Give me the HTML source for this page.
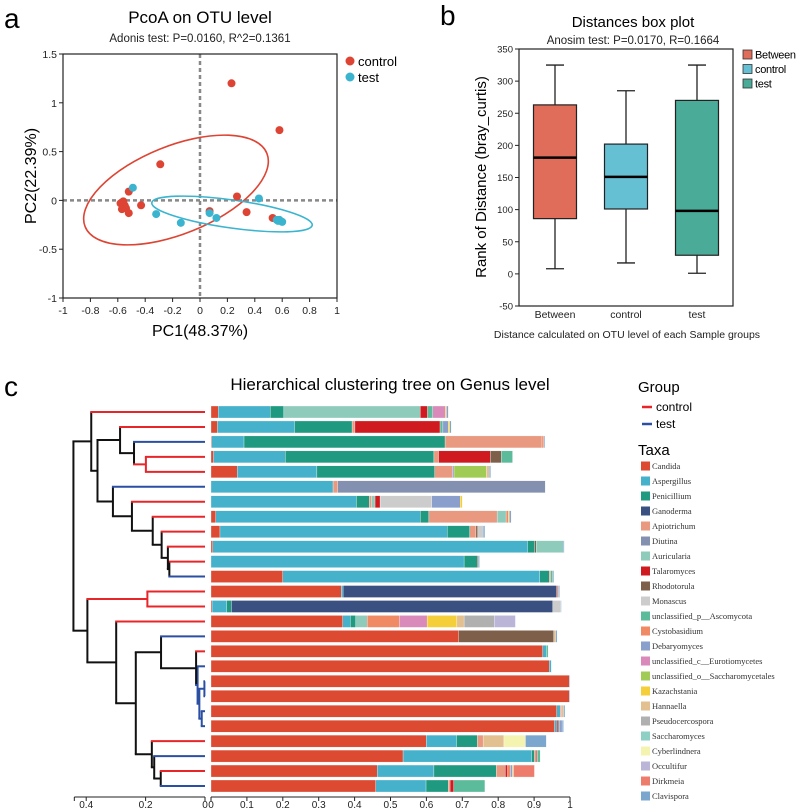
<!DOCTYPE html>
<html><head><meta charset="utf-8"><style>
html,body{margin:0;padding:0;background:#fff}
svg{display:block;font-family:"Liberation Sans",sans-serif}
</style></head><body>
<svg id="fig" width="798" height="811" viewBox="0 0 798 811" xmlns="http://www.w3.org/2000/svg">
<g id="pa"></g>
<g id="pb"></g>
<g id="pc"></g>
</svg>
<script>
// ---------- Panel a data ----------
const ctrlX=[0.23,0.58,-0.29,-0.52,-0.58,-0.56,-0.55,-0.57,-0.54,-0.52,-0.43,0.27,0.07,0.34,0.53];
const ctrlY=[1.2,0.72,0.37,0.09,-0.03,-0.01,-0.05,-0.09,-0.08,-0.13,-0.05,0.04,-0.11,-0.12,-0.18];
const testX=[-0.49,-0.32,-0.14,0.07,0.12,0.43,0.56,0.58,0.60,0.57];
const testY=[0.13,-0.14,-0.23,-0.13,-0.18,0.02,-0.20,-0.20,-0.22,-0.21];
const aXTicks=[-1,-0.8,-0.6,-0.4,-0.2,0,0.2,0.4,0.6,0.8,1];
const aYTicks=[-1,-0.5,0,0.5,1,1.5];
// ---------- Panel b data ----------
const boxCats=["Between","control","test"];
const boxMin=[8,17,1];
const boxQ1=[86,101,29];
const boxMed=[181,151,98];
const boxQ3=[263,202,270];
const boxMax=[325,285,325];
const bYTicks=[-50,0,50,100,150,200,250,300,350];
// ---------- Panel c data ----------
const taxa=["Candida","Aspergillus","Penicillium","Ganoderma","Apiotrichum","Diutina","Auricularia","Talaromyces","Rhodotorula","Monascus","unclassified_p__Ascomycota","Cystobasidium","Debaryomyces","unclassified_c__Eurotiomycetes","unclassified_o__Saccharomycetales","Kazachstania","Hannaella","Pseudocercospora","Saccharomyces","Cyberlindnera","Occultifur","Dirkmeia","Clavispora"];
const taxaColors=["#dc4a32","#45b1cb","#1f9a80","#3a5080","#e99980","#8490b0","#8fcbbb","#cf1a20","#7e604a","#cccccc","#5cbb9a","#f08a65","#8a9fcc","#d98abb","#a0cc55","#f5cf3a","#e2c08f","#b0b0b0","#8ed1c4","#f5f3b0","#bbb5d8","#ee7c6d","#7ba7cf"];
const leafGroup=["c","c","t","c","c","t","c","c","c","c","c","t","c","c","c","t","c","t","t","t","t","t","c","t","c","t"];
const rows=[
[[0,.02],[1,.145],[2,.038],[6,.38],[7,.02],[10,.015],[13,.035],[15,.003],[12,.005]],
[[0,.018],[1,.215],[2,.16],[4,.008],[7,.237],[10,.008],[12,.015],[15,.004],[22,.004]],
[[0,.002],[1,.09],[2,.56],[4,.27],[11,.005],[22,.003]],
[[0,.007],[1,.2],[2,.414],[4,.013],[7,.144],[8,.031],[10,.031]],
[[0,.073],[1,.222],[2,.328],[4,.05],[12,.004],[14,.09],[16,.008],[22,.004]],
[[1,.34],[4,.013],[5,.578]],
[[1,.405],[2,.036],[4,.006],[6,.01],[7,.014],[9,.144],[12,.079],[15,.006]],
[[0,.013],[1,.57],[2,.024],[4,.19],[6,.025],[11,.006],[15,.003],[12,.005]],
[[0,.025],[1,.633],[2,.063],[4,.017],[8,.005],[9,.015],[22,.005]],
[[0,.005],[1,.877],[2,.02],[8,.004],[6,.075],[22,.003]],
[[1,.705],[2,.037],[8,.003],[22,.003]],
[[0,.2],[1,.716],[2,.026],[4,.004],[10,.006],[22,.003]],
[[0,.363],[1,.005],[3,.595],[4,.005],[22,.003]],
[[0,.003],[1,.041],[2,.013],[3,.895],[9,.022],[22,.002]],
[[0,.367],[1,.021],[2,.015],[6,.032],[11,.09],[13,.077],[15,.083],[16,.02],[17,.084],[20,.059]],
[[0,.69],[8,.265],[16,.005],[22,.004]],
[[0,.924],[1,.01],[10,.005]],
[[0,.942],[1,.006]],
[[0,.998],[22,.002]],
[[0,.998],[22,.002]],
[[0,.963],[1,.01],[4,.004],[16,.005],[22,.004]],
[[0,.957],[1,.007],[7,.003],[8,.003],[12,.008],[22,.004]],
[[0,.6],[1,.084],[2,.058],[4,.016],[16,.058],[19,.06],[22,.058]],
[[0,.535],[1,.358],[2,.008],[4,.005],[7,.003],[10,.008]],
[[0,.463],[1,.158],[2,.174],[4,.025],[7,.006],[11,.008],[12,.005],[16,.004],[21,.058]],
[[0,.459],[1,.14],[2,.062],[4,.005],[7,.01],[10,.087]]
];
const merges=[
[3,4,.199],[2,26,.239],[1,27,.286],[10,11,.12],[9,29,.125],[8,30,.146],[7,31,.176],[6,32,.246],[5,33,.31],[28,34,.362],[0,35,.383],
[12,13,.194],[18,19,.002],[20,21,.011],[38,39,.019],[17,40,.025],[16,41,.03],[15,42,.148],[24,25,.149],[23,44,.171],[22,45,.179],[43,46,.233],[14,47,.299],[37,48,.396],[36,49,.443]
];
const bTicks=[0,0.1,0.2,0.3,0.4,0.5,0.6,0.7,0.8,0.9,1];
const dTicks=[0.4,0.2,0];

const NS="http://www.w3.org/2000/svg";
function el(parent,tag,attrs,text){const e=document.createElementNS(NS,tag);for(const k in attrs)e.setAttribute(k,attrs[k]);if(text!==undefined)e.textContent=text;parent.appendChild(e);return e;}

// ===== Panel a =====
(function(){
const g=document.getElementById('pa');
const L=63,R=337,T=54,B=298;
const sx=v=>L+(v+1)/2*(R-L);
const sy=v=>B-(v+1)/2.5*(B-T);
let t;
t=el(g,'text',{x:4,y:28,'font-size':28});t.textContent='a';

t=el(g,'text',{x:200,y:23,'font-size':17,'text-anchor':'middle'},'PcoA on OTU level');

t=el(g,'text',{x:200,y:42,'font-size':11.5,'text-anchor':'middle',fill:'#222'},'Adonis test:  P=0.0160, R^2=0.1361');

el(g,'line',{x1:sx(0),y1:T,x2:sx(0),y2:B,stroke:'#888','stroke-width':2.5,'stroke-dasharray':'4,3'});
el(g,'line',{x1:L,y1:sy(0),x2:R,y2:sy(0),stroke:'#888','stroke-width':2.5,'stroke-dasharray':'4,3'});
let e1=el(g,'ellipse',{cx:176,cy:190,rx:98,ry:44,transform:'rotate(-22 176 190)',fill:'none',stroke:'#dd4433','stroke-width':1.6});

let e2=el(g,'ellipse',{cx:232,cy:214,rx:81,ry:14,transform:'rotate(8 232 214)',fill:'none',stroke:'#3ab4cf','stroke-width':1.6});

ctrlX.forEach((v,i)=>{const c=el(g,'circle',{cx:sx(v),cy:sy(ctrlY[i]),r:4,fill:'#dd4433'});
});
testX.forEach((v,i)=>{const c=el(g,'circle',{cx:sx(v),cy:sy(testY[i]),r:4,fill:'#3ab4cf'});
});
el(g,'rect',{x:L,y:T,width:R-L,height:B-T,fill:'none',stroke:'#222','stroke-width':1.2});
aXTicks.forEach(v=>{el(g,'line',{x1:sx(v),y1:B,x2:sx(v),y2:B+4,stroke:'#222'});
const tt=el(g,'text',{x:sx(v),y:314,'font-size':10.5,'text-anchor':'middle',fill:'#222'},String(v));
});
aYTicks.forEach(v=>{el(g,'line',{x1:L-4,y1:sy(v),x2:L,y2:sy(v),stroke:'#222'});
const tt=el(g,'text',{x:L-6,y:sy(v)+4,'font-size':10.5,'text-anchor':'end',fill:'#222'},String(v));
});
t=el(g,'text',{x:200,y:336,'font-size':16,'text-anchor':'middle'},'PC1(48.37%)');

t=el(g,'text',{x:0,y:0,'font-size':16,'text-anchor':'middle',transform:'translate(36 176) rotate(-90)'},'PC2(22.39%)');

el(g,'circle',{cx:350,cy:61,r:4.5,fill:'#dd4433'});
t=el(g,'text',{x:358,y:66,'font-size':13},'control');
el(g,'circle',{cx:350,cy:77,r:4.5,fill:'#3ab4cf'});
t=el(g,'text',{x:358,y:82,'font-size':13},'test');
})();

// ===== Panel b =====
(function(){
const g=document.getElementById('pb');
const L=519,R=733,T=49,B=306;
const sy=v=>B-(v+50)/400*(B-T);
const cx=[555,626,697];const hw=21.5;
const cols=['#e06c5a','#66c0d4','#4aab98'];
let t;
t=el(g,'text',{x:440,y:25,'font-size':28});t.textContent='b';

t=el(g,'text',{x:633,y:27,'font-size':15,'text-anchor':'middle'},'Distances box plot');

t=el(g,'text',{x:633,y:44,'font-size':11.5,'text-anchor':'middle',fill:'#222'},'Anosim test:  P=0.0170, R=0.1664');

boxCats.forEach((c,i)=>{
 const x=cx[i];
 el(g,'line',{x1:x,y1:sy(boxMin[i]),x2:x,y2:sy(boxMax[i]),stroke:'#222','stroke-width':1.3});
 el(g,'line',{x1:x-9,y1:sy(boxMax[i]),x2:x+9,y2:sy(boxMax[i]),stroke:'#222','stroke-width':1.3});
 el(g,'line',{x1:x-9,y1:sy(boxMin[i]),x2:x+9,y2:sy(boxMin[i]),stroke:'#222','stroke-width':1.3});
 const r=el(g,'rect',{x:x-hw,y:sy(boxQ3[i]),width:2*hw,height:sy(boxQ1[i])-sy(boxQ3[i]),fill:cols[i],stroke:'#222','stroke-width':1.2});
 
 el(g,'line',{x1:x-hw,y1:sy(boxMed[i]),x2:x+hw,y2:sy(boxMed[i]),stroke:'#000','stroke-width':2.5});
 const tt=el(g,'text',{x:x,y:318,'font-size':10.5,'text-anchor':'middle',fill:'#222'},c);
 
});
el(g,'rect',{x:L,y:T,width:R-L,height:B-T,fill:'none',stroke:'#222','stroke-width':1.2});
bYTicks.forEach(v=>{el(g,'line',{x1:L-4,y1:sy(v),x2:L,y2:sy(v),stroke:'#222'});
const tt=el(g,'text',{x:L-6,y:sy(v)+3.5,'font-size':9.5,'text-anchor':'end',fill:'#222'},String(v));
});
t=el(g,'text',{x:0,y:0,'font-size':15,'text-anchor':'middle',transform:'translate(486 177) rotate(-90)'},'Rank of Distance (bray_curtis)');

t=el(g,'text',{x:627,y:338,'font-size':10.5,'text-anchor':'middle',fill:'#222'},'Distance calculated on OTU level of each Sample groups');

boxCats.forEach((c,i)=>{
 el(g,'rect',{x:743,y:50+i*14.5,width:9,height:9,fill:cols[i],stroke:'#333','stroke-width':0.8});
 const tt=el(g,'text',{x:755,y:58.5+i*14.5,'font-size':11,'letter-spacing':'-0.3'},c);
 
});
})();

// ===== Panel c =====
(function(){
const g=document.getElementById('pc');
const X0=211,W=359,Y0=412,P=14.96,BH=12;
const bx=v=>X0+v*W;
const ly=i=>Y0+i*P;
const DX=205,DS=297;
const dx=h=>DX-h*DS;
const RED='#e8262a',BLUE='#2b4fa3';
let t;
t=el(g,'text',{x:4,y:396,'font-size':28});t.textContent='c';

t=el(g,'text',{x:390,y:390,'font-size':17,'text-anchor':'middle'},'Hierarchical clustering tree on Genus level');

rows.forEach((row,i)=>{
 let acc=0;
 row.forEach(([k,v])=>{
  const r=el(g,'rect',{x:bx(acc),y:ly(i)-BH/2,width:Math.max(0.5,bx(acc+v)-bx(acc)),height:BH,fill:taxaColors[k],stroke:'#fff','stroke-width':0.3});
  
  acc+=v;
 });
});
const nodes=[];
for(let i=0;i<26;i++)nodes.push({x:DX,y:ly(i),grp:leafGroup[i]});
merges.forEach(([a,b,h])=>{
 const A=nodes[a],B=nodes[b];
 nodes.push({x:dx(h),y:(A.y+B.y)/2,grp:(A.grp===B.grp?A.grp:'m'),a:a,b:b});
});
const colOf=gp=>gp==='c'?RED:gp==='t'?BLUE:'#111';
for(let n=26;n<nodes.length;n++){
 const N=nodes[n],A=nodes[N.a],B=nodes[N.b];
 const ln=el(g,'line',{x1:N.x,y1:A.y,x2:N.x,y2:B.y,stroke:colOf(N.grp),'stroke-width':2});
 
 [A,B].forEach(C=>{const h=el(g,'line',{x1:N.x-1,y1:C.y,x2:C.x,y2:C.y,stroke:colOf(C.grp),'stroke-width':2});
 });
}
el(g,'line',{x1:X0,y1:797,x2:bx(1),y2:797,stroke:'#222'});
bTicks.forEach(v=>{el(g,'line',{x1:bx(v),y1:797,x2:bx(v),y2:801,stroke:'#222'});
const tt=el(g,'text',{x:bx(v),y:808,'font-size':10,'text-anchor':'middle',fill:'#222'},String(v));
});
el(g,'line',{x1:dx(0.44),y1:797,x2:DX,y2:797,stroke:'#222'});
dTicks.forEach(v=>{el(g,'line',{x1:dx(v),y1:797,x2:dx(v),y2:801,stroke:'#222'});
const tt=el(g,'text',{x:dx(v),y:808,'font-size':10,'text-anchor':'middle',fill:'#222'},String(v));
});
el(g,'line',{x1:dx(0.44),y1:797,x2:dx(0.44),y2:801,stroke:'#222'});
t=el(g,'text',{x:638,y:392,'font-size':15},'Group');
el(g,'line',{x1:642,y1:407,x2:652,y2:407,stroke:RED,'stroke-width':2.5});
t=el(g,'text',{x:656,y:411,'font-size':12},'control');
el(g,'line',{x1:642,y1:424,x2:652,y2:424,stroke:BLUE,'stroke-width':2.5});
t=el(g,'text',{x:656,y:428,'font-size':12},'test');
t=el(g,'text',{x:638,y:455,'font-size':15},'Taxa');
taxa.forEach((n,i)=>{
 const y=466+i*15;
 const s=el(g,'rect',{x:641,y:y-4.5,width:9,height:9,fill:taxaColors[i]});
 
 const tt=el(g,'text',{x:652,y:y+3,'font-size':8.5,fill:'#333','font-family':'Liberation Serif, serif'},n);
 
});
})();
</script>
</body></html>
